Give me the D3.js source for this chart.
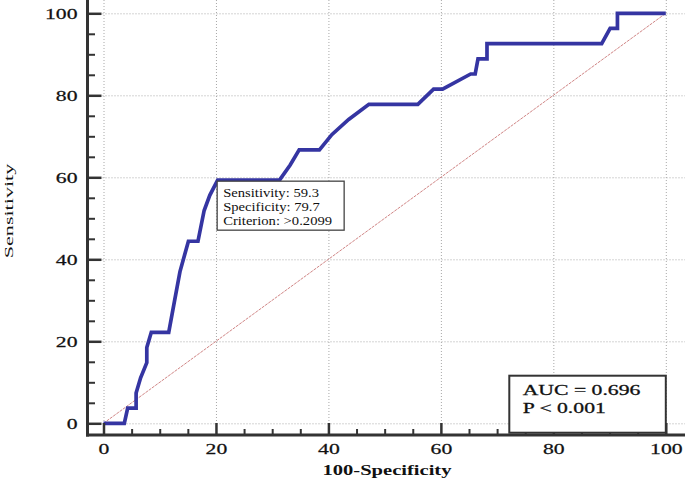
<!DOCTYPE html>
<html><head><meta charset="utf-8">
<script src="https://cdn.jsdelivr.net/npm/d3@7"></script>
<style>body{margin:0;background:#fff}svg{display:block}</style>
</head><body><svg id="c" width="685" height="482"></svg>
<script>
// ROC curve points (100-Specificity, Sensitivity)
const fpr = [0,3.7,4.3,5.8,5.8,6.6,7.7,7.7,8.5,11.6,12.6,13.6,15.1,16.8,17.9,18.9,20.3,31.3,33.2,34.8,38.4,40.6,43.6,47.2,55.9,58.7,60.3,65.3,66.1,66.6,68.2,68.2,88.6,90.1,91.4,91.4,100];
const tpr = [0,0,3.7,3.7,7.4,11.1,14.8,18.5,22.2,22.2,29.6,37.0,44.4,44.4,51.9,55.6,59.3,59.3,63.0,66.7,66.7,70.4,74.1,77.8,77.8,81.5,81.5,85.2,85.2,88.9,88.9,92.6,92.6,96.3,96.3,100,100];
const majorTicks = [0,20,40,60,80,100];
const minorTicks = [5,10,15,25,30,35,45,50,55,65,70,75,85,90,95];
const criterionPoint = {x:20.3, y:59.3};
const criterionLines = ["Sensitivity: 59.3","Specificity: 79.7","Criterion: >0.2099"];
const aucLines = ["AUC = 0.696","P < 0.001"];
const xTitle = "100-Specificity", yTitle = "Sensitivity";

const svg = d3.select("#c");
const FONT = "'Liberation Serif','Times New Roman',serif";
const x = d3.scaleLinear().domain([0,100]).range([103.5,665.8]);
const y = d3.scaleLinear().domain([0,100]).range([423.3,13.3]);
const axX = 87.5, axY = 435;

// grid
const grid = svg.append("g").attr("stroke","#a8a8a8").attr("stroke-width",1).attr("stroke-dasharray","1,2");
grid.selectAll(".gv").data(majorTicks).join("line")
  .attr("x1",d=>x(d)+0.5).attr("x2",d=>x(d)+0.5).attr("y1",0).attr("y2",axY);
grid.selectAll(".gh").data(majorTicks).join("line")
  .attr("x1",axX).attr("x2",685).attr("y1",d=>y(d)+0.5).attr("y2",d=>y(d)+0.5);

// diagonal
svg.append("line").attr("x1",x(0)).attr("y1",y(0)).attr("x2",x(100)).attr("y2",y(100))
  .attr("stroke","#d08585").attr("stroke-width",1).attr("stroke-dasharray","3,1");

// ROC curve
const pts = fpr.map((v,i)=>[v,tpr[i]]);
svg.append("path").datum(pts)
  .attr("d", d3.line().x(d=>x(d[0])).y(d=>y(d[1])))
  .attr("fill","none").attr("stroke","#3535a2").attr("stroke-width",3.7)
  .attr("stroke-linejoin","miter");

// axes
const axisColor = "#333";
// Y axis
const gy = svg.append("g").attr("transform",`translate(${axX},0)`);
gy.call(d3.axisLeft(y).tickValues(minorTicks).tickSize(-7.5).tickFormat(""));
gy.call(g=>g.select(".domain").remove());
gy.selectAll("line").attr("stroke",axisColor).attr("stroke-width",2);
const gy2 = svg.append("g").attr("transform",`translate(${axX},0)`);
gy2.call(d3.axisLeft(y).tickValues(majorTicks).tickSize(-14).tickPadding(10));
gy2.select(".domain").remove();
gy2.selectAll("line").attr("stroke",axisColor).attr("stroke-width",2.5);
const sxTick = 1.4;
gy2.selectAll("text").attr("font-family",FONT).attr("font-size",15.5).attr("fill","#111")
  .attr("stroke","#111").attr("stroke-width",0.25)
  .attr("x",-10/sxTick).attr("dy",null).attr("y",5)
  .attr("transform",`scale(${sxTick},1)`);
// X axis
const gx = svg.append("g").attr("transform",`translate(0,${axY})`);
gx.call(d3.axisBottom(x).tickValues(minorTicks).tickSize(-6).tickFormat(""));
gx.select(".domain").remove();
gx.selectAll("line").attr("stroke",axisColor).attr("stroke-width",2);
const gx2 = svg.append("g").attr("transform",`translate(0,${axY})`);
gx2.call(d3.axisBottom(x).tickValues(majorTicks).tickSize(-12));
gx2.select(".domain").remove();
gx2.selectAll("line").attr("stroke",axisColor).attr("stroke-width",2.5);
gx2.selectAll("text").attr("font-family",FONT).attr("font-size",15.5).attr("fill","#111")
  .attr("stroke","#111").attr("stroke-width",0.25)
  .attr("y",19.5).attr("dy",null).attr("x",0)
  .attr("transform",`scale(${sxTick},1)`);
// axis lines
svg.append("line").attr("x1",axX).attr("x2",axX).attr("y1",0).attr("y2",axY+1.5)
  .attr("stroke",axisColor).attr("stroke-width",3);
svg.append("line").attr("x1",axX-1.5).attr("x2",685).attr("y1",axY).attr("y2",axY)
  .attr("stroke",axisColor).attr("stroke-width",3);

function stext(xp, yp, s, size, sx, opts={}){
  const t = svg.append("text")
    .attr("transform",`translate(${xp},${yp}) rotate(${opts.rot||0}) scale(${sx},1)`)
    .attr("font-family",FONT).attr("font-size",size)
    .attr("font-weight",opts.weight||"normal")
    .attr("text-anchor",opts.anchor||"start")
    .attr("fill",opts.fill||"#111").text(s);
  if (opts.sw) t.attr("stroke",opts.fill||"#111").attr("stroke-width",opts.sw);
  return t;
}

// axis titles
stext(387, 475, xTitle, 15, 1.37, {weight:"bold", anchor:"middle"});
stext(13, 211, yTitle, 13, 1.7, {anchor:"middle", rot:-90});

// criterion box
const bx = x(criterionPoint.x)-0.5, by = y(criterionPoint.y)+1;
svg.append("rect").attr("x",bx).attr("y",by).attr("width",127).attr("height",49)
  .attr("fill","#fff").attr("stroke","#444").attr("stroke-width",1.3);
criterionLines.forEach((s,i)=>stext(bx+6, by+16+i*13.7, s, 12.5, 1.17));

// AUC box
svg.append("rect").attr("x",509.3).attr("y",375.7).attr("width",156.5).attr("height",57)
  .attr("fill","#fff").attr("stroke","#333").attr("stroke-width",2);
aucLines.forEach((s,i)=>stext(522.7, 395+i*18.3, s, 15.5, 1.4, {sw:0.3}));
</script></body></html>
